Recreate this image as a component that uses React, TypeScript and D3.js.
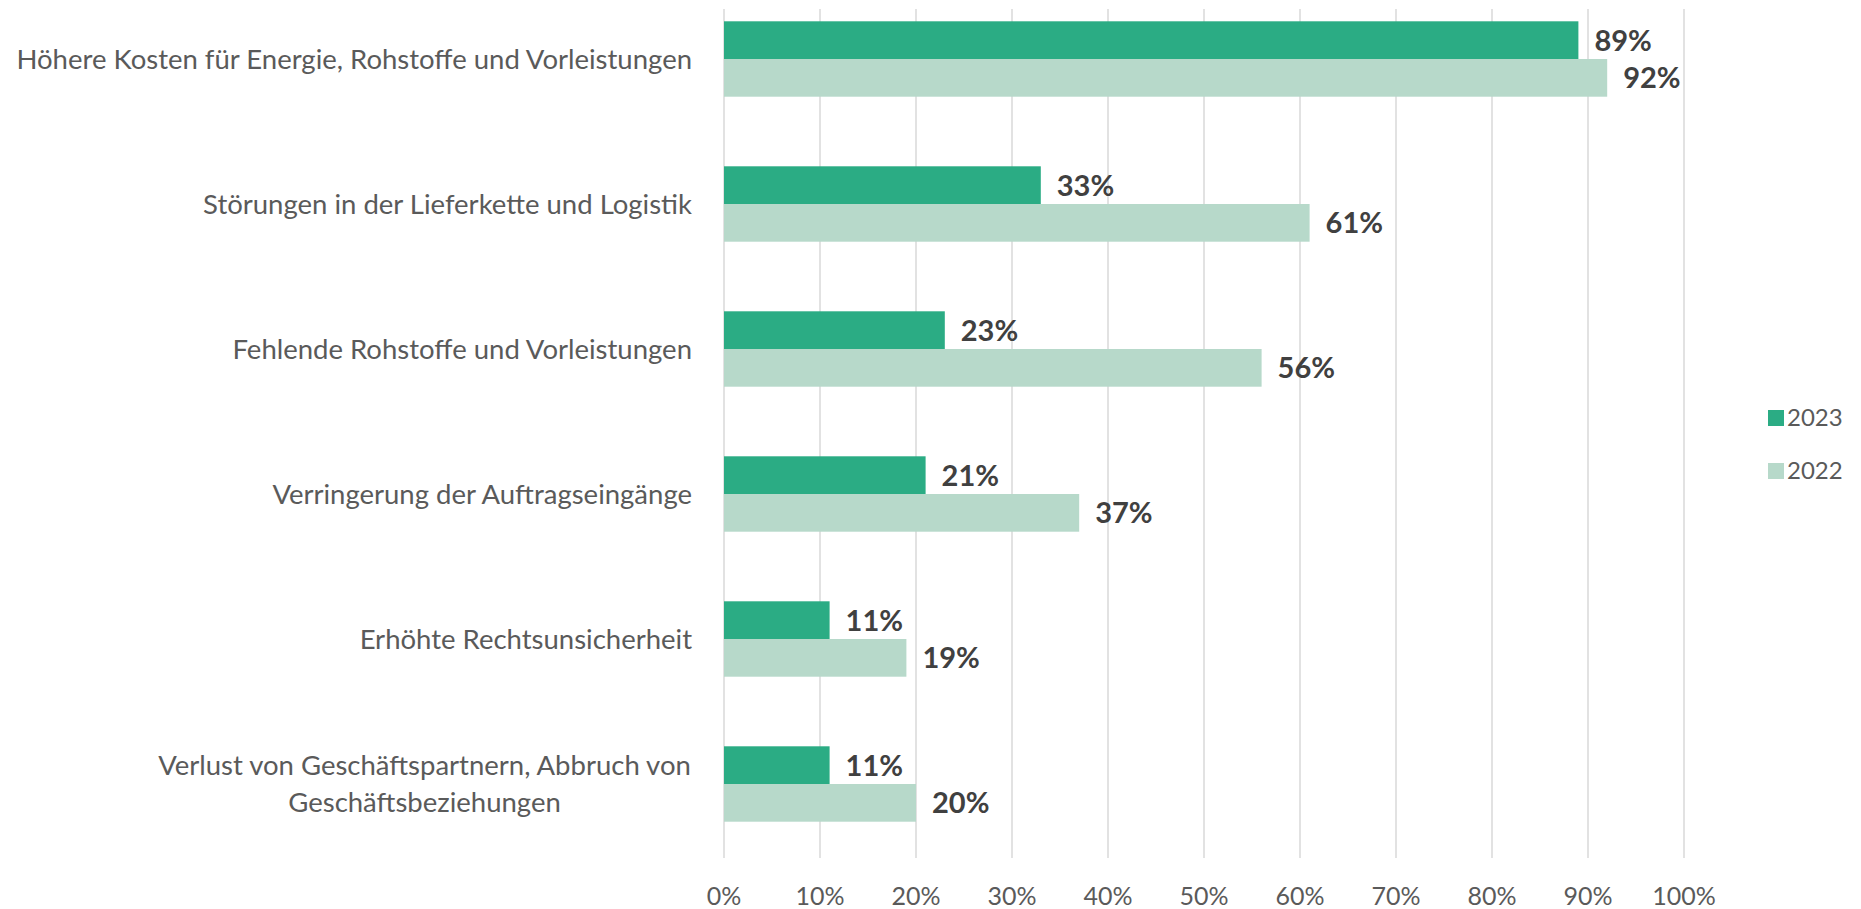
import React from "react";
import * as d3 from "d3";

const categories = [
  "Höhere Kosten für Energie, Rohstoffe und Vorleistungen",
  "Störungen in der Lieferkette und Logistik",
  "Fehlende Rohstoffe und Vorleistungen",
  "Verringerung der Auftragseingänge",
  "Erhöhte Rechtsunsicherheit",
  "Verlust von Geschäftspartnern, Abbruch von|Geschäftsbeziehungen",
];
const series = ["2023", "2022"];
const values2023 = [0.89, 0.33, 0.23, 0.21, 0.11, 0.11];
const values2022 = [0.92, 0.61, 0.56, 0.37, 0.19, 0.2];
const ticks = [0, 0.1, 0.2, 0.3, 0.4, 0.5, 0.6, 0.7, 0.8, 0.9, 1.0];
const colors = ["#2BAC84", "#B7D9CA"];

const W = 1861;
const H = 909;
const FONT = "Lato, 'Open Sans', sans-serif";
const TEXT = "#5a5a5a";
const CAT_SIZE = 27.5;

function measure(text: string, font: string): number {
  const c = document.createElement("canvas").getContext("2d");
  if (!c) return text.length * 12;
  c.font = font;
  return c.measureText(text).width;
}

export default function App() {
  const x = d3.scaleLinear().domain([0, 1]).range([724, 1684]);
  const y = d3
    .scaleBand<string>()
    .domain(categories)
    .range([-13.5, 856.5])
    .paddingInner(0.48)
    .paddingOuter(0.24);
  const ys = d3.scaleBand<string>().domain(series).range([0, y.bandwidth()]);
  const data = [values2023, values2022];
  const labelRight = 692;
  const catFont = `${CAT_SIZE}px Lato`;

  return (
    <svg
      width={W}
      height={H}
      style={{ position: "absolute", left: 0, top: 0, background: "#fff" }}
      fontFamily={FONT}
    >
      {ticks.map((t) => (
        <line
          key={"g" + t}
          x1={x(t)}
          x2={x(t)}
          y1={9}
          y2={858}
          stroke="#d9d9d9"
          strokeWidth={1.5}
        />
      ))}
      {ticks.map((t) => (
        <text
          key={"t" + t}
          x={x(t)}
          y={905}
          textAnchor="middle"
          fontSize={25}
          fill={TEXT}
        >
          {d3.format(".0%")(t)}
        </text>
      ))}
      {categories.map((c, i) => {
        const y0 = y(c)!;
        return (
          <g key={c}>
            {series.map((s, k) => {
              const v = data[k][i];
              const by = y0 + ys(s)!;
              return (
                <g key={s}>
                  <rect
                    x={x(0)}
                    y={by}
                    width={x(v) - x(0)}
                    height={ys.bandwidth()}
                    fill={colors[k]}
                  />
                  <text
                    x={x(v) + 16}
                    y={by + ys.bandwidth() / 2}
                    dy="0.36em"
                    fontSize={29}
                    fontWeight="bold"
                    fill="#404040"
                  >
                    {d3.format(".0%")(v)}
                  </text>
                </g>
              );
            })}
          </g>
        );
      })}
      {categories.map((c) => {
        const lines = c.split("|");
        const cy = y(c)! + y.bandwidth() / 2;
        if (lines.length === 1) {
          return (
            <text
              key={"l" + c}
              x={labelRight}
              y={cy}
              dy="0.35em"
              textAnchor="end"
              fontSize={CAT_SIZE}
              fill={TEXT}
            >
              {c}
            </text>
          );
        }
        const w = Math.max(...lines.map((l) => measure(l, catFont)));
        const cx = labelRight - w / 2;
        const lh = 37;
        return (
          <g key={"l" + c}>
            {lines.map((l, j) => (
              <text
                key={j}
                x={cx}
                y={cy + (j - (lines.length - 1) / 2) * lh}
                dy="0.35em"
                textAnchor="middle"
                fontSize={CAT_SIZE}
                fill={TEXT}
              >
                {l}
              </text>
            ))}
          </g>
        );
      })}
      {series.map((s, k) => (
        <g key={"leg" + s} transform={`translate(1768, ${418 + k * 53})`}>
          <rect x={0} y={-8} width={16} height={16} fill={colors[k]} />
          <text x={19} y={0} dy="0.35em" fontSize={24} fill={TEXT}>
            {s}
          </text>
        </g>
      ))}
    </svg>
  );
}
